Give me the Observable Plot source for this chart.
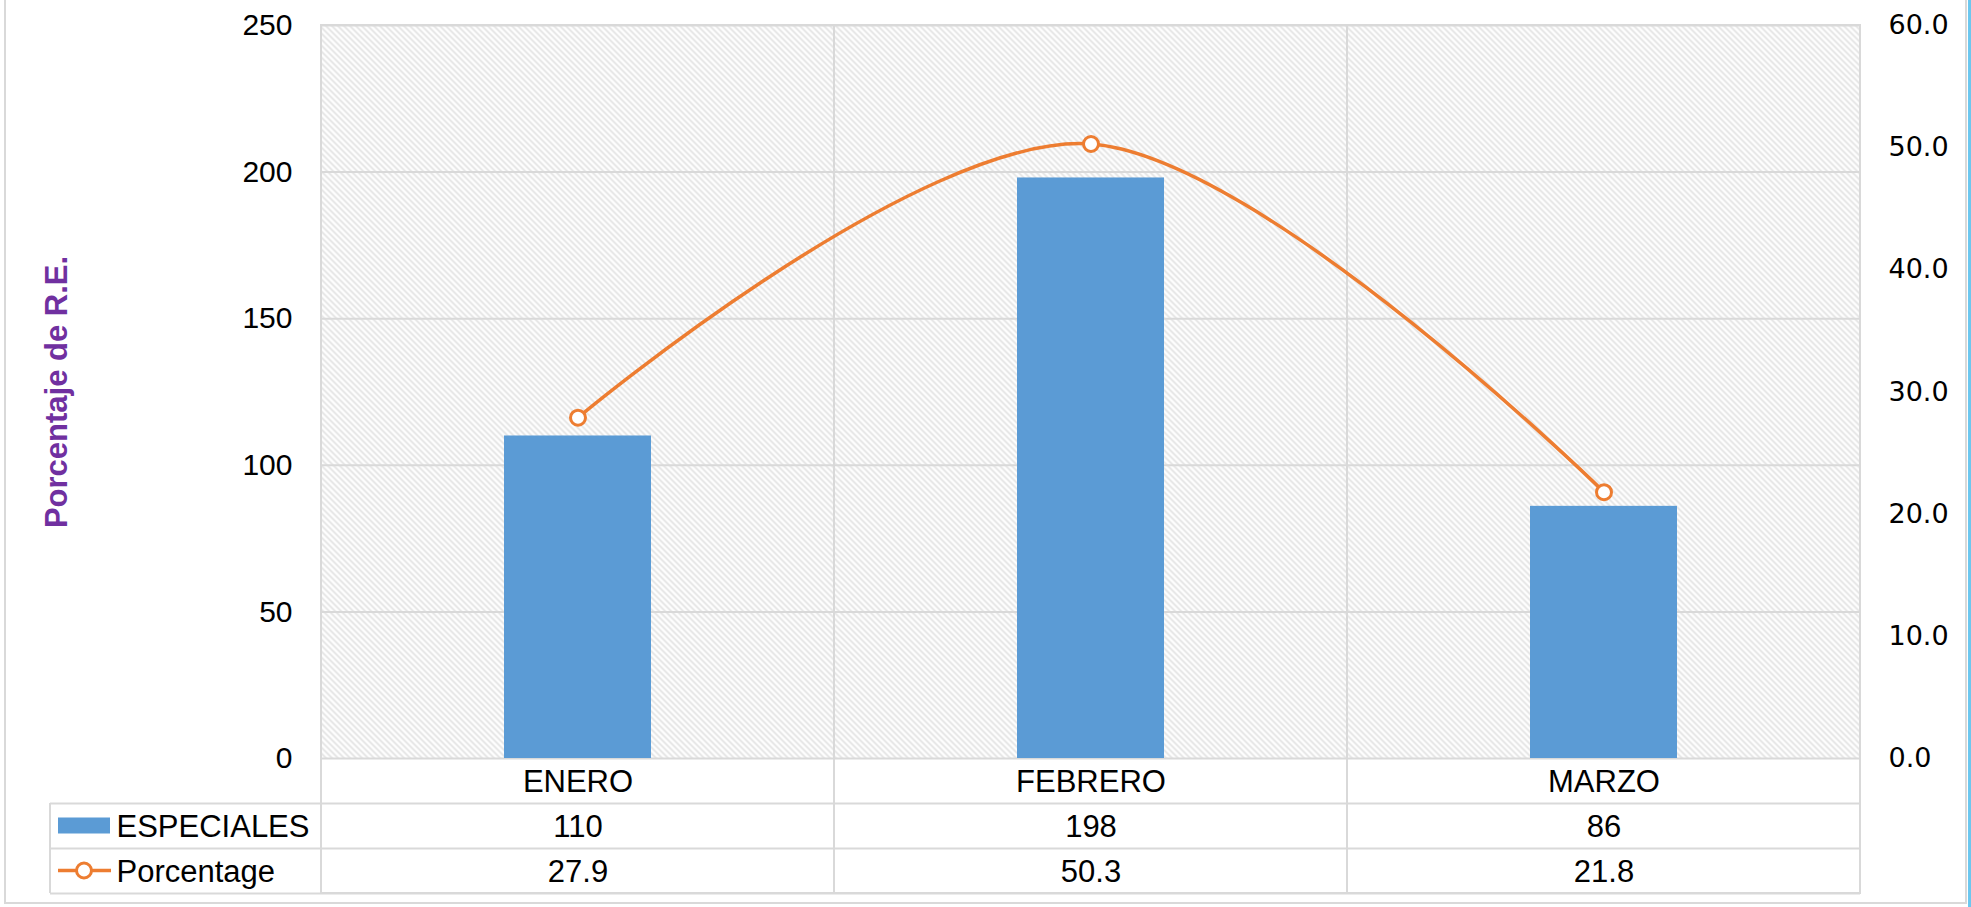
<!DOCTYPE html>
<html>
<head>
<meta charset="utf-8">
<script src="https://cdn.jsdelivr.net/npm/d3@7"></script>
<script src="https://cdn.jsdelivr.net/npm/@observablehq/plot@0.6"></script>
<style>
  html, body { margin: 0; padding: 0; background: #fff; overflow: hidden; }
  #chart svg { display: block; }
</style>
</head>
<body>
<div id="chart"></div>
<script>
const months = ["ENERO", "FEBRERO", "MARZO"];
const especiales = [110, 198, 86];
const porcentage = [27.9, 50.3, 21.8];
const leftTicks = [0, 50, 100, 150, 200, 250];
const rightTicks = [0, 10, 20, 30, 40, 50, 60];
const seriesNames = ["ESPECIALES", "Porcentage"];
const yTitle = "Porcentaje de R.E.";

const leftMax = 250, rightMax = 60;
const toLeft = v => v * leftMax / rightMax;
const data = months.map((m, i) => ({month: m, esp: especiales[i], pct: porcentage[i]}));

const W = 1971, H = 907;
const mL = 321, mR = 111, mT = 25, mB = 149;
const rowH = 45;
const headerLeft = 50;
const FONT = "'Liberation Sans', Arial, sans-serif";
const GRID = "#d9d9d9";
const BLUE = "#5b9bd5";
const ORANGE = "#ed7d31";

const defsMark = () => {
  const defs = d3.create("svg:defs");
  const p = defs.append("pattern")
    .attr("id", "hatch").attr("patternUnits", "userSpaceOnUse")
    .attr("width", 6).attr("height", 6);
  p.append("rect").attr("width", 6).attr("height", 6).attr("fill", "#ffffff");
  p.append("path").attr("d", "M-1,-1L7,7M-1,5L1,7M5,-1L7,1")
    .attr("stroke", "#e2e2e2").attr("stroke-width", 1.7);
  return defs.node();
};

const decorMark = (index, scales, values, dims) => {
  const g = d3.create("svg:g");
  const base = dims.height - dims.marginBottom;
  // header column left border
  g.append("line").attr("x1", headerLeft).attr("x2", headerLeft)
    .attr("y1", base + rowH).attr("y2", base + 3 * rowH)
    .attr("stroke", GRID).attr("stroke-width", 2);
  // legend key: bar
  g.append("rect").attr("x", 58).attr("y", base + rowH * 1.5 - 8)
    .attr("width", 52).attr("height", 16).attr("fill", BLUE);
  // legend key: line + circle
  const ly = base + rowH * 2.5;
  g.append("line").attr("x1", 58).attr("x2", 111).attr("y1", ly).attr("y2", ly)
    .attr("stroke", ORANGE).attr("stroke-width", 3.5);
  g.append("circle").attr("cx", 84).attr("cy", ly).attr("r", 7.5)
    .attr("fill", "#fff").attr("stroke", ORANGE).attr("stroke-width", 3);
  // outer chart border
  g.append("path").attr("d", `M5,-5V903H1966V-5`).attr("fill", "none")
    .attr("stroke", GRID).attr("stroke-width", 2);
  g.append("rect").attr("x", 1968).attr("y", 0).attr("width", 3).attr("height", H)
    .attr("fill", "#6cc7ef");
  return g.node();
};

const rowText = (values, row, extra = {}) =>
  Plot.text(values, {frameAnchor: "bottom", lineAnchor: "middle", dy: rowH * (row + 0.5) + 1,
    fontSize: 31, fill: "#000", ...extra});

const chart = Plot.plot({
  width: W,
  height: H,
  marginLeft: mL,
  marginRight: mR,
  marginTop: mT,
  marginBottom: mB,
  style: {fontFamily: FONT, background: "#fff", color: "#000"},
  x: {domain: months, padding: 0, axis: null},
  y: {domain: [0, leftMax], axis: null},
  marks: [
    defsMark,
    Plot.frame({fill: "url(#hatch)", stroke: "none"}),
    Plot.gridY(leftTicks.filter(d => d > 0), {stroke: GRID, strokeOpacity: 1, strokeWidth: 2}),
    // column borders (plot + table)
    Plot.barY(months, {x: d => d, y1: 0, y2: leftMax, fill: "none", stroke: GRID, strokeWidth: 2, insetBottom: -3 * rowH}),
    // table row lines
    Plot.ruleY([0], {stroke: GRID, strokeWidth: 2}),
    Plot.ruleY([0], {dy: rowH, stroke: GRID, strokeWidth: 2, insetLeft: -(mL - headerLeft)}),
    Plot.ruleY([0], {dy: 2 * rowH, stroke: GRID, strokeWidth: 2, insetLeft: -(mL - headerLeft)}),
    Plot.ruleY([0], {dy: 3 * rowH, stroke: GRID, strokeWidth: 2, insetLeft: -(mL - headerLeft)}),
    // bars
    Plot.barY(data, {x: "month", y: "esp", fill: BLUE, insetLeft: 183, insetRight: 183}),
    // percentage line
    Plot.line(data, {x: "month", y: d => toLeft(d.pct), stroke: ORANGE, strokeWidth: 3.5, curve: "cardinal"}),
    Plot.dot(data, {x: "month", y: d => toLeft(d.pct), r: 7.5, fill: "#fff", stroke: ORANGE, strokeWidth: 3}),
    // axes
    Plot.axisY(leftTicks, {anchor: "left", tickSize: 0, tickPadding: 29, fontSize: 30, label: null}),
    Plot.axisY(rightTicks.map(toLeft), {anchor: "right", tickSize: 0, tickPadding: 28, fontSize: 27,
      fontFamily: "'DejaVu Sans', sans-serif", label: null,
      tickFormat: d => (d * rightMax / leftMax).toFixed(1)}),
    Plot.text([yTitle], {frameAnchor: "left", textAnchor: "middle", lineAnchor: "middle", rotate: -90,
      dx: 57 - mL, fontSize: 31, fontWeight: "bold", fill: "#7030a0"}),
    // table text
    rowText(data, 0, {x: "month", text: "month"}),
    rowText(data, 1, {x: "month", text: d => String(d.esp)}),
    rowText(data, 2, {x: "month", text: d => d.pct.toFixed(1)}),
    rowText(seriesNames.slice(0, 1), 1, {frameAnchor: "bottom-left", textAnchor: "start", dx: 116 - mL}),
    rowText(seriesNames.slice(1, 2), 2, {frameAnchor: "bottom-left", textAnchor: "start", dx: 116 - mL}),
    decorMark
  ]
});
document.getElementById("chart").append(chart);
</script>
</body>
</html>
